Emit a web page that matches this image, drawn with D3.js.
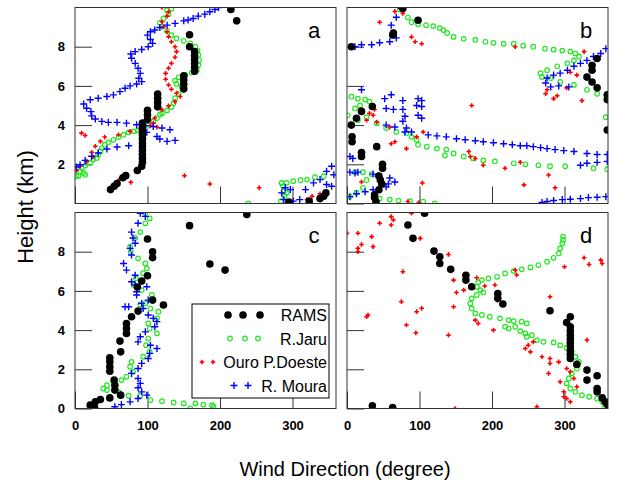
<!DOCTYPE html>
<html>
<head>
<meta charset="utf-8">
<script src="https://cdn.jsdelivr.net/npm/d3@7"></script>
<style>
  html, body { margin: 0; padding: 0; background: #fff; }
  svg { display: block; font-family: "Liberation Sans", Arial, sans-serif; }
</style>
</head>
<body>
<svg id="chart" width="622" height="484"></svg>
<script>
// Wind direction (degree) against height (km), four soundings per panel.
const panelLetters = ["a", "b", "c", "d"];
const seriesNames = ["RAMS", "R.Jaru", "Ouro P.Doeste", "R. Moura"];
const xTicks = [0, 100, 200, 300];
const yTicks = [0, 2, 4, 6, 8];

// Panel a
const ramsA = [[215,9.9],[223,9.32],[158,8.61],[158,8.0],[165,7.75],[165,7.55],[165,7.35],[165,7.15],[165,6.95],[165,6.75],[150,6.51],[150,6.3],[150,6.08],[150,5.85],[114,5.59],[114,5.37],[114,5.15],[114,4.93],[100,4.75],[100,4.52],[100,4.28],[93,4.1],[93,3.9],[93,3.7],[93,3.5],[93,3.3],[93,3.1],[93,2.9],[93,2.7],[93,2.5],[93,2.3],[93,2.1],[92,1.9],[86,1.68],[70,1.42],[66,1.31],[58,1.02],[54,0.88],[49,0.71],[295,0.08],[323,0.12],[338,0.25],[343,0.37],[346,0.54]];
const jaruA = [[133,9.95],[127,9.86],[129,9.66],[122,9.44],[117,9.22],[120,9.02],[127,8.81],[133,8.59],[140,8.42],[150,8.3],[159,8.17],[166,8.0],[169,7.8],[170,7.58],[171,7.32],[170,7.07],[168,6.81],[161,6.68],[152,6.56],[143,6.44],[138,6.27],[140,6.1],[147,5.97],[150,5.8],[143,5.59],[138,5.37],[136,5.12],[133,4.92],[127,4.75],[120,4.61],[117,4.53],[113,4.36],[108,4.19],[101,3.97],[94,3.85],[87,3.73],[81,3.68],[74,3.63],[67,3.51],[60,3.39],[53,3.25],[46,3.12],[41,3.0],[37,2.83],[35,2.66],[32,2.49],[30,2.32],[25,2.24],[21,2.07],[14,1.93],[9,1.81],[7,1.64],[12,1.56],[14,1.47],[5,1.42],[2,1.39],[292,1.05],[301,1.14],[311,1.19],[320,1.22],[331,1.34],[343,1.39],[285,1.05],[287,0.88],[288,0.63],[289,0.37],[284,0.12],[292,0.54],[239,0.0]];
const ouroA = [[120,10.0],[129,9.78],[127,9.56],[120,9.27],[122,9.02],[127,8.76],[129,8.51],[133,8.25],[138,8.0],[140,7.75],[138,7.46],[133,7.15],[129,6.9],[125,6.64],[125,6.34],[129,6.05],[133,5.83],[140,5.63],[145,5.46],[138,5.2],[129,4.98],[120,4.78],[110,4.36],[108,4.1],[104,3.97],[90,3.8],[76,3.68],[60,3.51],[41,3.39],[35,3.17],[28,2.92],[23,2.61],[25,2.37],[16,2.15],[7,1.9],[2,1.69],[9,3.59],[14,3.47],[113,3.9],[151,1.42],[186,1.0],[254,0.8],[77,1.08],[61,1.22],[320,0.2],[338,0.49],[327,0.37]];
const mouraA = [[198,10.0],[193,9.9],[186,9.78],[179,9.66],[170,9.56],[163,9.44],[156,9.36],[150,9.32],[138,9.19],[127,9.1],[117,8.98],[110,8.85],[104,8.76],[100,8.59],[104,8.37],[107,8.17],[101,8.0],[92,7.86],[83,7.75],[77,7.63],[78,7.41],[83,7.15],[87,6.9],[90,6.64],[88,6.39],[92,6.22],[85,6.1],[76,6.0],[69,5.88],[62,5.71],[53,5.54],[44,5.46],[32,5.37],[21,5.29],[12,5.08],[16,4.86],[22,4.69],[23,4.47],[28,4.31],[37,4.19],[46,4.14],[58,4.14],[71,4.1],[85,4.02],[97,3.97],[108,3.93],[120,3.85],[131,3.76],[99,3.63],[113,3.42],[117,3.29],[127,3.17],[138,3.22],[74,2.95],[58,2.88],[44,2.78],[32,2.58],[23,2.41],[14,2.2],[7,1.98],[2,1.86],[354,1.9],[347,1.64],[357,1.47],[338,1.22],[347,0.97],[329,1.05],[318,0.71],[297,0.71],[285,0.54],[288,0.2],[301,0.12],[310,0.2],[354,0.88],[290,0.8]];

// Panel b
const ramsB = [[77,9.95],[98,9.35],[64,8.7],[63,8.6],[6,8.0],[345,7.4],[338,7.05],[338,6.8],[331,6.45],[338,6.2],[345,5.9],[359,5.55],[359,5.3],[359,3.75],[35,4.95],[20,4.7],[13,4.35],[6,4.0],[7,3.4],[7,3.15],[41,2.9],[20,2.6],[20,2.4],[49,2.0],[49,1.8],[44,1.4],[46,1.2],[48,1.0],[44,0.7],[38,0.45],[38,0.3],[40,0.1]];
const jaruB = [[73,9.9],[84,9.5],[89,9.25],[98,9.15],[109,9.1],[119,9.05],[128,8.95],[133,8.85],[138,8.7],[147,8.5],[161,8.4],[177,8.35],[191,8.25],[202,8.2],[216,8.15],[230,8.15],[243,8.05],[257,8.0],[273,7.9],[285,7.85],[297,7.8],[308,7.75],[315,7.65],[320,7.5],[313,7.3],[304,7.15],[290,7.0],[276,6.8],[267,6.65],[269,6.45],[281,6.4],[294,6.2],[313,6.05],[331,5.8],[345,5.6],[359,5.45],[357,4.4],[6,5.45],[15,5.35],[25,5.3],[31,5.2],[18,5.0],[11,4.85],[1,4.5],[15,4.25],[27,4.4],[41,4.1],[54,3.85],[68,3.65],[82,3.6],[89,3.4],[96,3.25],[98,3.0],[110,2.9],[124,2.8],[137,2.75],[147,2.55],[161,2.4],[174,2.3],[188,2.2],[204,2.15],[230,2.05],[246,2.0],[264,1.95],[280,1.9],[301,1.9],[340,1.8],[359,1.75],[135,2.45],[11,1.6],[22,1.6],[34,1.5],[27,1.2],[22,0.8],[13,0.55],[4,0.35],[45,0.25],[59,0.2],[71,0.15],[87,0.12],[105,0.1],[121,0.0]];
const ouroB = [[73,10.0],[66,9.8],[77,9.7],[45,9.25],[89,8.5],[94,8.25],[103,8.15],[232,8.0],[327,7.75],[308,6.7],[317,6.55],[276,5.8],[274,5.6],[285,5.35],[290,5.5],[303,5.9],[324,5.25],[172,5.0],[18,4.8],[31,4.6],[38,4.8],[36,4.5],[27,4.25],[41,4.15],[59,3.9],[96,3.4],[105,3.65],[61,3.05],[66,3.15],[82,2.8],[168,2.65],[170,2.4],[177,2.3],[188,1.95],[218,1.8],[239,2.1],[278,1.45],[244,0.95],[287,0.8],[104,1.05],[20,1.1],[84,0.1],[99,0.05]];
const mouraB = [[75,9.95],[68,9.5],[61,9.1],[64,8.7],[68,8.45],[59,8.25],[45,8.2],[34,8.1],[20,8.1],[11,8.0],[357,7.9],[350,7.65],[340,7.5],[331,7.3],[322,7.15],[313,7.0],[304,6.8],[294,6.65],[285,6.55],[276,6.4],[274,6.15],[281,5.95],[292,6.0],[306,5.95],[20,5.8],[52,5.35],[61,5.55],[77,5.25],[98,5.35],[103,5.25],[96,5.0],[103,4.95],[54,4.85],[64,4.8],[77,4.8],[80,4.45],[98,4.5],[103,4.35],[77,4.2],[54,4.0],[66,3.9],[82,3.85],[80,3.65],[89,3.65],[112,3.5],[124,3.45],[137,3.4],[151,3.3],[163,3.25],[177,3.2],[188,3.15],[202,3.1],[216,3.05],[228,3.0],[239,2.95],[248,2.95],[257,2.9],[267,2.85],[276,2.8],[287,2.75],[299,2.7],[313,2.65],[331,2.55],[345,2.5],[359,2.5],[4,2.4],[8,2.3],[322,1.95],[331,2.05],[345,2.1],[359,2.15],[4,1.6],[11,1.55],[15,1.6],[36,1.5],[43,1.4],[59,1.3],[66,1.1],[57,1.0],[54,0.85],[36,0.7],[25,0.6],[13,0.5],[4,0.35],[269,0.05],[276,0.1],[285,0.15],[297,0.2],[308,0.22],[322,0.25],[333,0.3],[345,0.32],[357,0.35]];

// Panel c
const ramsC = [[237,9.9],[158,9.33],[100,8.65],[107,8.0],[107,7.7],[186,7.37],[207,7.06],[100,6.77],[92,6.5],[86,6.2],[107,5.53],[122,5.28],[87,4.97],[78,4.68],[71,4.34],[71,4.08],[71,3.83],[62,3.44],[63,2.89],[48,2.59],[48,2.38],[48,2.13],[48,1.9],[54,1.45],[55,1.19],[55,0.94],[63,0.68],[48,0.54],[35,0.46],[28,0.34],[21,0.17],[27,0.05]];
const jaruC = [[97,9.96],[103,9.7],[97,9.45],[90,9.0],[83,8.7],[76,8.26],[77,8.0],[87,7.66],[97,7.4],[99,7.15],[94,6.9],[84,6.64],[81,6.3],[92,6.04],[106,5.79],[108,5.53],[97,5.36],[90,5.3],[104,5.1],[115,4.94],[113,4.6],[101,4.34],[103,4.08],[113,3.83],[101,3.57],[98,3.23],[103,2.89],[94,2.64],[78,2.38],[76,2.13],[80,1.87],[71,1.62],[64,1.45],[53,1.36],[44,1.19],[39,1.02],[44,0.94],[60,0.85],[74,0.65],[90,0.65],[104,0.43],[120,0.37],[136,0.31],[150,0.26],[166,0.26],[177,0.2],[189,0.17],[191,0.09],[159,0.0]];
const ouroC = [];
const mouraC = [[90,9.96],[97,9.8],[87,9.45],[78,9.0],[80,8.7],[83,8.43],[76,8.17],[78,7.83],[67,7.4],[71,7.06],[83,6.8],[78,6.47],[83,6.3],[99,6.21],[85,5.96],[85,5.79],[101,5.53],[92,5.36],[69,5.19],[74,5.19],[94,5.1],[101,4.77],[108,4.6],[113,4.43],[110,4.17],[97,3.91],[90,3.66],[87,3.4],[104,3.23],[113,3.06],[103,2.81],[101,2.55],[92,2.3],[87,2.04],[78,1.79],[87,1.53],[90,1.28],[87,1.06],[92,0.85],[99,0.68],[87,0.51],[76,0.34],[64,0.2],[55,0.09]];

// Panel d
const ramsD = [[107,9.96],[84,9.36],[91,8.68],[120,8.03],[128,7.74],[128,7.4],[143,7.1],[164,6.8],[164,6.55],[172,6.21],[208,5.87],[208,5.62],[215,5.33],[280,4.99],[308,4.68],[303,4.39],[308,4.17],[308,3.95],[308,3.75],[308,3.55],[308,3.35],[308,3.15],[308,2.95],[308,2.75],[308,2.55],[317,2.25],[331,1.96],[345,1.67],[331,1.45],[345,1.02],[345,0.85],[352,0.54],[356,0.34],[359,0.2],[35,0.14],[63,0.05]];
const jaruD = [[298,8.77],[298,8.6],[297,8.43],[294,8.17],[292,7.91],[285,7.69],[276,7.49],[264,7.32],[253,7.2],[241,7.1],[230,7.01],[218,6.89],[207,6.72],[195,6.64],[186,6.55],[181,6.43],[179,6.21],[184,6.04],[188,5.92],[179,5.79],[172,5.62],[170,5.36],[172,5.11],[177,4.85],[186,4.77],[197,4.68],[211,4.6],[223,4.51],[230,4.46],[241,4.43],[248,4.34],[232,4.17],[223,4.08],[218,4.17],[239,3.95],[246,3.83],[255,3.74],[248,3.66],[262,3.49],[271,3.4],[285,3.37],[294,3.23],[303,3.1],[310,2.89],[315,2.64],[320,2.38],[317,2.04],[310,1.79],[306,1.53],[303,1.28],[308,1.02],[315,0.85],[324,0.68],[334,0.6],[345,0.51],[352,0.34],[356,0.09]];
const ouroD = [[0,8.94],[15,8.94],[20,8.37],[34,8.77],[36,8.26],[45,9.45],[61,9.79],[64,9.62],[61,9.36],[89,9.96],[101,8.68],[77,6.98],[15,8.17],[15,8.0],[140,7.86],[75,5.45],[27,4.68],[29,4.77],[96,4.94],[103,5.11],[82,4.26],[95,3.86],[140,3.74],[147,5.19],[147,6.55],[151,5.92],[161,6.04],[179,6.67],[190,6.25],[204,6.3],[207,5.53],[177,4.51],[181,4.34],[202,4.0],[234,6.81],[232,7.06],[246,3.06],[253,2.89],[250,3.23],[257,3.4],[269,2.64],[278,1.79],[280,2.55],[292,2.38],[280,2.3],[294,1.36],[303,2.04],[308,1.87],[299,0.85],[299,0.6],[303,0.51],[308,0.34],[317,1.11],[313,1.53],[280,5.7],[300,7.23],[327,7.69],[334,7.35],[350,7.57],[352,7.4],[331,3.49],[262,0.09],[149,0.0]];
const mouraD = [];

const panelData = [
  [ramsA, jaruA, ouroA, mouraA],
  [ramsB, jaruB, ouroB, mouraB],
  [ramsC, jaruC, ouroC, mouraC],
  [ramsD, jaruD, ouroD, mouraD]
];

const svg = d3.select("#chart");
const W = 261, H = 196;
const origins = [[75, 7.5], [347, 7.5], [75, 212.5], [347, 212.5]];
const x = d3.scaleLinear().domain([0, 360]).range([0, W]);
const y = d3.scaleLinear().domain([0, 10]).range([H, 0]);

const colors = ["#000000", "#1ee81e", "#ff0000", "#0000ff"];
const plusPath = "M-3.5,0H3.5M0,-3.5V3.5";
const redPath = d3.symbol().type(d3.symbolCross).size(12)();

function drawMarker(sel, k) {
  if (k === 0) {
    sel.append("circle").attr("r", 3.8).attr("fill", colors[0]);
  } else if (k === 1) {
    sel.append("circle").attr("r", 2.3).attr("fill", "none")
      .attr("stroke", colors[1]).attr("stroke-width", 1.2);
  } else if (k === 2) {
    sel.append("path").attr("d", redPath).attr("fill", colors[2]);
  } else {
    sel.append("path").attr("d", plusPath).attr("fill", "none")
      .attr("stroke", colors[3]).attr("stroke-width", 1.4);
  }
}

const drawOrder = [1, 2, 3, 0];

origins.forEach(([ox, oy], p) => {
  const g = svg.append("g").attr("transform", `translate(${ox},${oy})`);
  const clipId = "clip" + p;
  g.append("clipPath").attr("id", clipId)
    .append("rect").attr("width", W).attr("height", H);

  const showX = p >= 2, showY = p % 2 === 0;
  const yAxis = d3.axisLeft(y)
    .tickValues(p === 0 ? yTicks.slice(1) : yTicks)
    .tickSizeInner(-17).tickSizeOuter(0).tickPadding(10)
    .tickFormat(showY ? d3.format("d") : () => "");
  const xAxis = d3.axisBottom(x)
    .tickValues(xTicks)
    .tickSizeInner(-17).tickSizeOuter(0).tickPadding(12)
    .tickFormat(showX ? d3.format("d") : () => "");

  const ya = g.append("g").call(yAxis);
  const xa = g.append("g").attr("transform", `translate(0,${H})`).call(xAxis);
  [ya, xa].forEach(a => {
    a.select(".domain").remove();
    a.selectAll(".tick line").attr("stroke", "#333");
    a.selectAll("text").attr("font-size", 13).attr("font-weight", "bold")
      .attr("fill", "#000").attr("font-family", "Liberation Sans, Arial, sans-serif");
  });

  const plot = g.append("g").attr("clip-path", `url(#${clipId})`);
  drawOrder.forEach(k => {
    plot.selectAll(null).data(panelData[p][k]).join("g")
      .attr("transform", d => `translate(${x(d[0])},${y(d[1])})`)
      .each(function () { drawMarker(d3.select(this), k); });
  });

  g.append("rect").attr("width", W).attr("height", H)
    .attr("fill", "none").attr("stroke", "#333").attr("stroke-width", 1);

  g.append("text").attr("x", W - 22).attr("y", 30)
    .attr("text-anchor", "middle").attr("font-size", 22)
    .text(panelLetters[p]);
});

// Legend inside panel c
const lg = svg.append("g").attr("transform", "translate(192,304)");
lg.append("rect").attr("width", 137).attr("height", 94)
  .attr("fill", "#fff").attr("stroke", "#000").attr("stroke-width", 1);
const legendMarkers = [
  [36, 51, 68], [38, 53, 66], [10, 21], [42, 56]
];
seriesNames.forEach((name, k) => {
  const yy = 11 + k * 23.5;
  legendMarkers[k].forEach(mx => {
    const m = lg.append("g").attr("transform", `translate(${mx},${yy})`);
    drawMarker(m, k);
  });
  lg.append("text").attr("x", 135).attr("y", yy + 6)
    .attr("text-anchor", "end").attr("font-size", 16).text(name);
});

// Axis titles
svg.append("text").attr("x", 345).attr("y", 476)
  .attr("text-anchor", "middle").attr("font-size", 20)
  .text("Wind Direction (degree)");
svg.append("text").attr("transform", "translate(33,207) rotate(-90)")
  .attr("text-anchor", "middle").attr("font-size", 22)
  .text("Height (km)");
</script>
</body>
</html>
